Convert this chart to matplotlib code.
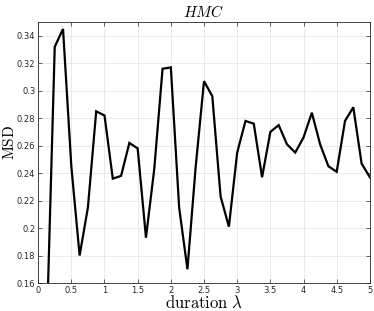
import matplotlib
matplotlib.use("Agg")
import matplotlib.pyplot as plt
import numpy as np

# duration lambda and MSD
duration = [0.125, 0.25, 0.375, 0.5, 0.625, 0.75, 0.875, 1.0, 1.125, 1.25,
            1.375, 1.5, 1.625, 1.75, 1.875, 2.0, 2.125, 2.25, 2.375, 2.5,
            2.625, 2.75, 2.875, 3.0, 3.125, 3.25, 3.375, 3.5, 3.625, 3.75,
            3.875, 4.0, 4.125, 4.25, 4.375, 4.5, 4.625, 4.75, 4.875, 5.0]
msd = [0.117, 0.332, 0.345, 0.245, 0.180, 0.215, 0.285, 0.282, 0.236, 0.238,
       0.262, 0.258, 0.193, 0.243, 0.316, 0.317, 0.215, 0.170, 0.245, 0.307,
       0.296, 0.223, 0.201, 0.255, 0.278, 0.276, 0.237, 0.270, 0.275, 0.261,
       0.255, 0.266, 0.284, 0.261, 0.245, 0.241, 0.278, 0.288, 0.247, 0.237]

xticks = [0, 0.5, 1, 1.5, 2, 2.5, 3, 3.5, 4, 4.5, 5]
xticklabels = ["0", "0.5", "1", "1.5", "2", "2.5", "3", "3.5", "4", "4.5", "5"]
yticks = [0.16, 0.18, 0.2, 0.22, 0.24, 0.26, 0.28, 0.3, 0.32, 0.34]
yticklabels = ["0.16", "0.18", "0.2", "0.22", "0.24", "0.26", "0.28", "0.3", "0.32", "0.34"]

plt.rcParams['mathtext.fontset'] = 'cm'

fig = plt.figure(figsize=(3.74, 3.11), dpi=100)
ax = fig.add_axes([0.102, 0.09, 0.887, 0.839])
ax.plot(duration, msd, color='black', lw=1.6, solid_joinstyle='miter')

ax.set_xlim(0, 5)
ax.set_ylim(0.16, 0.35)
ax.set_xticks(xticks)
ax.set_xticklabels(xticklabels, fontsize=6, color='#262626')
ax.set_yticks(yticks)
ax.set_yticklabels(yticklabels, fontsize=6, color='#262626')
ax.tick_params(direction='in', top=True, right=True, length=3, width=0.5, pad=2, color='#262626')
ax.grid(True, color='#e6e6e6', lw=0.6)
ax.set_axisbelow(True)
for sp in ax.spines.values():
    sp.set_linewidth(0.6)
    sp.set_color('#262626')

ax.set_title(r'$HMC$', fontsize=11, pad=4)
ax.set_xlabel(r'$\mathrm{duration}\ \lambda$', fontsize=12)
ax.xaxis.set_label_coords(0.5, -0.042)
ax.set_ylabel(r'$\mathrm{MSD}$', fontsize=11)
ax.yaxis.set_label_coords(-0.063, 0.54)

plt.savefig("out.png", dpi=100)
